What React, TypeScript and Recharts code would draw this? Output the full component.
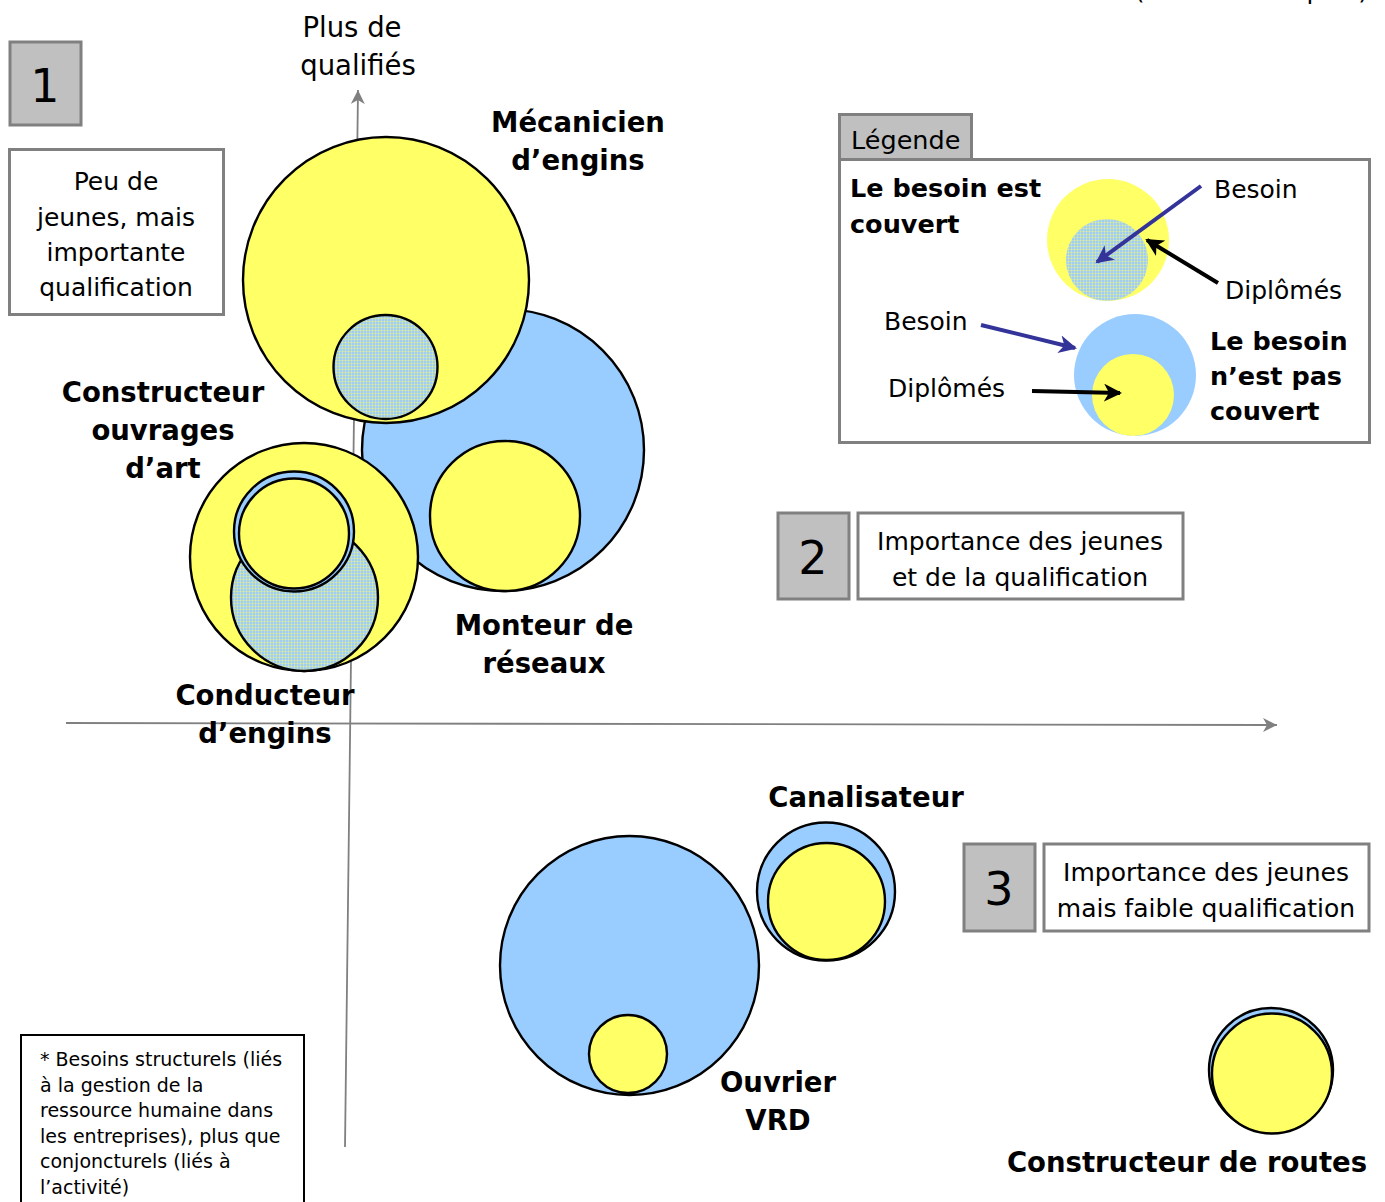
import { ReferenceLine, Scatter, ScatterChart, XAxis, YAxis } from "recharts";

// chart size and axis domains (origin = crossing of the two axes)
const W = 1385;
const H = 1202;
const X_MIN = -350;
const X_MAX = 1035;
const Y_MIN = -479;
const Y_MAX = 723;
const K = W / (X_MAX - X_MIN); // px per unit, used for radii

const metiers = [
  "Monteur de réseaux",
  "Mécanicien d’engins",
  "Constructeur ouvrages d’art",
  "Conducteur d’engins",
  "Canalisateur",
  "Ouvrier VRD",
  "Constructeur de routes",
];

// besoin (need) circles
const besoinX = [153, 35.5, -45.5, -56, 476, 279.5, 921];
const besoinY = [273, 356, 125.5, 191.5, -168.5, -242.5, -347];
const besoinR = [141, 52, 73.5, 60, 69, 129.5, 62];

// diplômés (graduates) circles
const diplomesX = [155, 36, -46, -56, 476.5, 278, 922];
const diplomesY = [207, 443, 166, 189.5, -178.5, -331, -350.5];
const diplomesR = [75, 143, 114, 55, 58.5, 39, 60];

// labels, y = baseline of first line
const labelLines = [
  ["Monteur de", "réseaux"],
  ["Mécanicien", "d’engins"],
  ["Constructeur", "ouvrages", "d’art"],
  ["Conducteur", "d’engins"],
  ["Canalisateur"],
  ["Ouvrier", "VRD"],
  ["Constructeur de routes"],
];
const labelX = [194, 228, -187, -85, 516, 428, 837];
const labelY = [88, 591, 321, 18, -84, -369, -449];

const footnote = [
  "* Besoins structurels (liés",
  "à la gestion de la",
  "ressource humaine dans",
  "les entreprises), plus que",
  "conjoncturels (liés à",
  "l’activité)",
];

const BLUE = "#99ccff";
const YELLOW = "#ffff66";
const GRAY = "#808080";
const BOXGRAY = "#c0c0c0";
const FONT = "'DejaVu Sans', Verdana, sans-serif";

type Circle = { x: number; y: number; r: number; kind: "besoin" | "diplomes" | "couvert"; name: string };

const circles: Circle[] = [];
metiers.forEach((name, i) => {
  const b = { x: besoinX[i], y: besoinY[i], r: besoinR[i], name };
  const d = { x: diplomesX[i], y: diplomesY[i], r: diplomesR[i], name };
  if (besoinR[i] >= diplomesR[i]) {
    circles.push({ ...b, kind: "besoin" });
    circles.push({ ...d, kind: "diplomes" });
  } else {
    // need covered: graduates circle is the bigger one
    circles.push({ ...d, kind: "diplomes" });
    circles.push({ ...b, kind: "couvert" });
  }
});

const labels = metiers.map((name, i) => ({ name, x: labelX[i], y: labelY[i], lines: labelLines[i] }));

const fillOf = (k: string) => (k === "besoin" ? BLUE : k === "diplomes" ? YELLOW : "url(#dotted)");

const CircleShape = (props: any) => {
  const { cx, cy, payload } = props;
  return (
    <circle
      cx={cx}
      cy={cy}
      r={payload.r * K}
      fill={fillOf(payload.kind)}
      stroke="#000"
      strokeWidth={2.4}
    />
  );
};

const LabelShape = (props: any) => {
  const { cx, cy, payload } = props;
  return (
    <text
      x={cx}
      y={cy}
      textAnchor="middle"
      fontFamily={FONT}
      fontWeight="bold"
      fontSize={27.5}
      fill="#000"
    >
      {payload.lines.map((l: string, j: number) => (
        <tspan key={j} x={cx} y={cy + j * 38}>
          {l}
        </tspan>
      ))}
    </text>
  );
};

const AxisLine = (props: any) => (
  <line
    x1={props.x1}
    y1={props.y1}
    x2={props.x2}
    y2={props.y2}
    stroke={GRAY}
    strokeWidth={1.8}
    markerEnd="url(#axisArrow)"
  />
);

const Txt = (p: {
  x: number;
  y: number;
  size?: number;
  bold?: boolean;
  anchor?: "start" | "middle" | "end";
  children: string;
}) => (
  <text
    x={p.x}
    y={p.y}
    fontFamily={FONT}
    fontSize={p.size ?? 25}
    fontWeight={p.bold ? "bold" : "normal"}
    textAnchor={p.anchor ?? "start"}
    fill="#000"
  >
    {p.children}
  </text>
);

const Arrow = (p: { x1: number; y1: number; x2: number; y2: number; color: string; id: string }) => (
  <line x1={p.x1} y1={p.y1} x2={p.x2} y2={p.y2} stroke={p.color} strokeWidth={4} markerEnd={`url(#${p.id})`} />
);

const Decorations = () => (
  <g>
    {/* top right, cut off by the page edge as in the source */}
    <Txt x={1368} y={-1} anchor="end">(du moins au plus)</Txt>

    <Txt x={352} y={37} size={27.5} anchor="middle">Plus de</Txt>
    <Txt x={358} y={75} size={27.5} anchor="middle">qualifiés</Txt>

    {/* zone 1 */}
    <rect x={10} y={42} width={71} height={83} fill={BOXGRAY} stroke={GRAY} strokeWidth={3} />
    <Txt x={45} y={102} size={46} anchor="middle">1</Txt>
    <rect x={9.5} y={149.5} width={214} height={165} fill="#fff" stroke={GRAY} strokeWidth={3} />
    <Txt x={116} y={190} anchor="middle">Peu de</Txt>
    <Txt x={116} y={226} anchor="middle">jeunes, mais</Txt>
    <Txt x={116} y={261} anchor="middle">importante</Txt>
    <Txt x={116} y={296} anchor="middle">qualification</Txt>

    {/* zone 2 */}
    <rect x={778} y={513} width={71} height={86} fill={BOXGRAY} stroke={GRAY} strokeWidth={3} />
    <Txt x={813} y={574} size={46} anchor="middle">2</Txt>
    <rect x={858} y={513} width={325} height={86} fill="#fff" stroke={GRAY} strokeWidth={3} />
    <Txt x={1020} y={550} anchor="middle">Importance des jeunes</Txt>
    <Txt x={1020} y={586} anchor="middle">et de la qualification</Txt>

    {/* zone 3 */}
    <rect x={964} y={844} width={71} height={87} fill={BOXGRAY} stroke={GRAY} strokeWidth={3} />
    <Txt x={999} y={905} size={46} anchor="middle">3</Txt>
    <rect x={1044} y={844} width={325} height={87} fill="#fff" stroke={GRAY} strokeWidth={3} />
    <Txt x={1206} y={881} anchor="middle">Importance des jeunes</Txt>
    <Txt x={1206} y={917} anchor="middle">mais faible qualification</Txt>

    {/* legend */}
    <rect x={839.5} y={114.5} width={132} height={45} fill={BOXGRAY} stroke={GRAY} strokeWidth={3} />
    <Txt x={851} y={149} size={25.5}>Légende</Txt>
    <rect x={839.5} y={159.5} width={530} height={283} fill="#fff" stroke={GRAY} strokeWidth={3} />
    <Txt x={850} y={197} size={25.5} bold>Le besoin est</Txt>
    <Txt x={850} y={233} size={25.5} bold>couvert</Txt>
    <circle cx={1108} cy={240} r={61} fill={YELLOW} />
    <circle cx={1107} cy={260} r={41} fill="url(#dotted)" />
    <Txt x={1214} y={198}>Besoin</Txt>
    <Txt x={1225} y={299}>Diplômés</Txt>
    <Arrow x1={1201} y1={186} x2={1097} y2={262} color="#333399" id="blueHead" />
    <Arrow x1={1218} y1={283} x2={1147} y2={240} color="#000" id="blackHead" />

    <circle cx={1135} cy={375} r={61} fill={BLUE} />
    <circle cx={1133} cy={395} r={41} fill={YELLOW} />
    <Txt x={884} y={330}>Besoin</Txt>
    <Txt x={888} y={397}>Diplômés</Txt>
    <Arrow x1={981} y1={325} x2={1075} y2={348} color="#333399" id="blueHead" />
    <Arrow x1={1032} y1={391} x2={1120} y2={393} color="#000" id="blackHead" />
    <Txt x={1210} y={350} size={25.5} bold>Le besoin</Txt>
    <Txt x={1210} y={385} size={25.5} bold>n’est pas</Txt>
    <Txt x={1210} y={420} size={25.5} bold>couvert</Txt>

    {/* footnote */}
    <rect x={21} y={1035} width={283} height={190} fill="#fff" stroke="#000" strokeWidth={2} />
    {footnote.map((l, i) => (
      <Txt key={i} x={40} y={1066 + i * 25.6} size={19}>
        {l}
      </Txt>
    ))}
  </g>
);

export default function App() {
  return (
    <div style={{ position: "absolute", left: 0, top: 0, background: "#fff" }}>
      <ScatterChart width={W} height={H} margin={{ top: 0, right: 0, bottom: 0, left: 0 }}>
        <defs>
          <pattern id="dotted" width={3} height={3} patternUnits="userSpaceOnUse">
            <rect width={3} height={3} fill="#a0cdf4" />
            <rect width={3} height={1} fill={YELLOW} opacity={0.35} />
            <rect width={1} height={3} fill={YELLOW} opacity={0.35} />
          </pattern>
          <marker id="axisArrow" markerUnits="userSpaceOnUse" markerWidth={16} markerHeight={14} refX={14} refY={7} orient="auto">
            <path d="M0,0 L14,7 L0,14 L4,7 Z" fill={GRAY} />
          </marker>
          <marker id="blueHead" markerUnits="userSpaceOnUse" markerWidth={20} markerHeight={18} refX={16} refY={9} orient="auto">
            <path d="M0,0 L18,9 L0,18 L5,9 Z" fill="#333399" />
          </marker>
          <marker id="blackHead" markerUnits="userSpaceOnUse" markerWidth={20} markerHeight={18} refX={16} refY={9} orient="auto">
            <path d="M0,0 L18,9 L0,18 L5,9 Z" fill="#000" />
          </marker>
        </defs>
        <XAxis type="number" dataKey="x" domain={[X_MIN, X_MAX]} hide allowDataOverflow />
        <YAxis type="number" dataKey="y" domain={[Y_MIN, Y_MAX]} hide allowDataOverflow />
        <ReferenceLine
          segment={[
            { x: -284, y: 0 },
            { x: 927, y: -2 },
          ]}
          shape={AxisLine}
          ifOverflow="visible"
        />
        <ReferenceLine
          segment={[
            { x: -5, y: -424 },
            { x: 8, y: 633 },
          ]}
          shape={AxisLine}
          ifOverflow="visible"
        />
        <Scatter data={circles} shape={CircleShape} isAnimationActive={false} />
        <Scatter data={labels} shape={LabelShape} isAnimationActive={false} />
        <Decorations />
      </ScatterChart>
    </div>
  );
}
